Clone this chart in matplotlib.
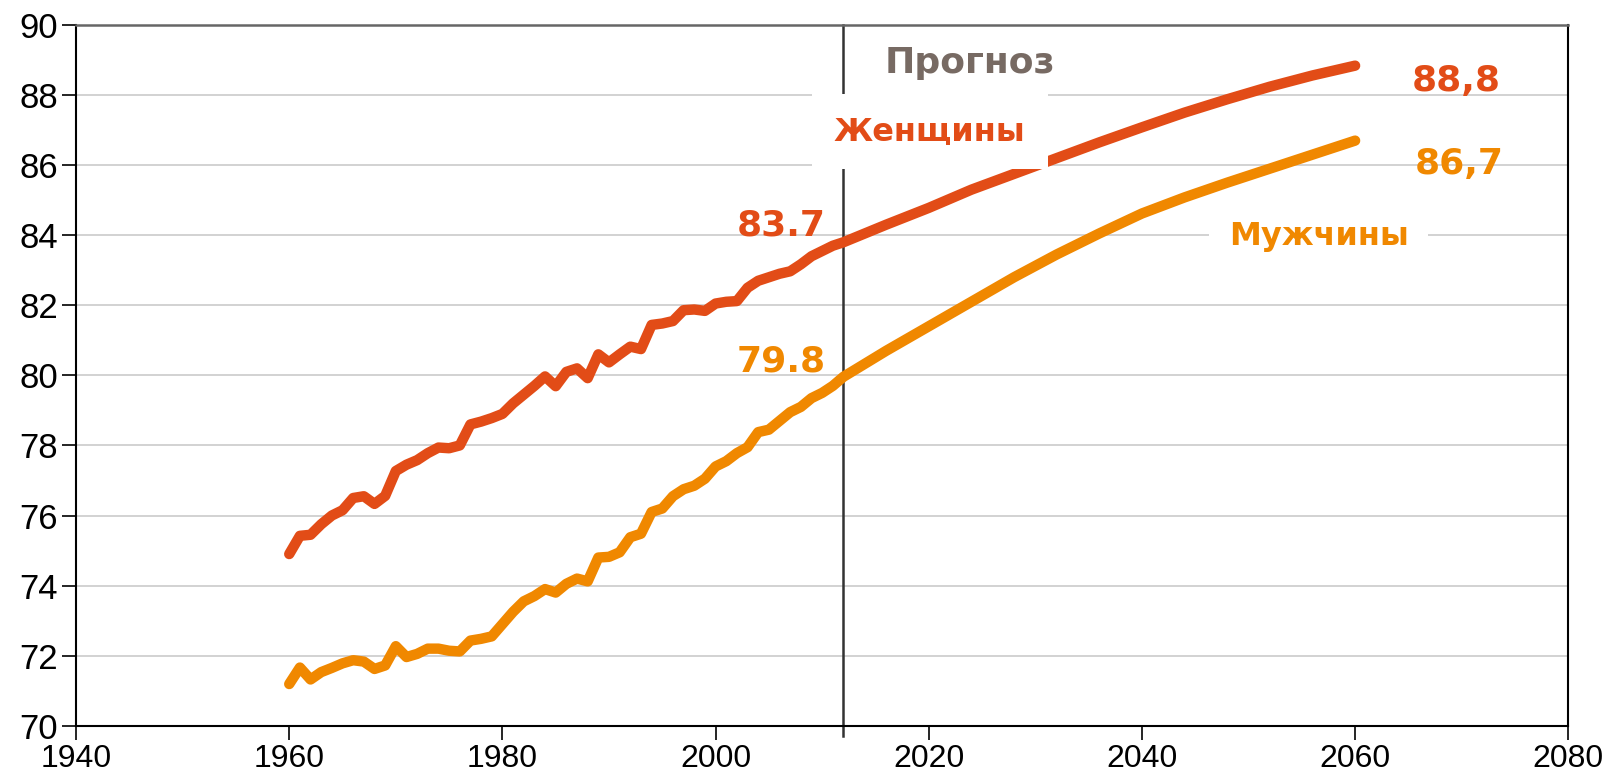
import matplotlib
matplotlib.use('Agg')
import matplotlib.pyplot as plt

# Life expectancy, history (1960-2012) and forecast (2012-2060)
years_hist = list(range(1960, 2013))
women_hist = [74.9, 75.42, 75.45, 75.75, 76.0, 76.15, 76.5, 76.55, 76.33, 76.56,
              77.27, 77.45, 77.58, 77.78, 77.94, 77.92, 78.0, 78.6, 78.68, 78.78,
              78.9, 79.2, 79.45, 79.7, 79.97, 79.69, 80.1, 80.2, 79.92, 80.6,
              80.37, 80.6, 80.82, 80.75, 81.44, 81.48, 81.55, 81.86, 81.88, 81.84,
              82.05, 82.1, 82.12, 82.5, 82.7, 82.8, 82.9, 82.97, 83.17, 83.4,
              83.55, 83.7, 83.8]
men_hist = [71.19, 71.66, 71.32, 71.53, 71.65, 71.78, 71.87, 71.83, 71.62, 71.72,
            72.27, 71.96, 72.05, 72.2, 72.2, 72.14, 72.12, 72.43, 72.48, 72.55,
            72.9, 73.25, 73.55, 73.7, 73.9, 73.8, 74.05, 74.2, 74.12, 74.8,
            74.82, 74.95, 75.38, 75.48, 76.1, 76.2, 76.55, 76.75, 76.85, 77.05,
            77.4, 77.55, 77.78, 77.95, 78.38, 78.45, 78.7, 78.95, 79.1, 79.35,
            79.5, 79.7, 79.96]

years_proj = [2012, 2016, 2020, 2024, 2028, 2032, 2036, 2040, 2044, 2048, 2052, 2056, 2060]
women_proj = [83.8, 84.3, 84.78, 85.3, 85.75, 86.2, 86.65, 87.08, 87.5, 87.88, 88.24, 88.56, 88.84]
men_proj = [79.96, 80.7, 81.4, 82.1, 82.8, 83.45, 84.05, 84.62, 85.08, 85.5, 85.9, 86.3, 86.7]

forecast_start = 2012

c_women = '#E24C17'
c_men = '#F08800'
c_note = '#776A63'

fig = plt.figure(figsize=(16.08, 7.79), dpi=100)
ax = fig.add_axes([0.0473, 0.0684, 0.928, 0.8995])

ax.plot(years_hist + years_proj[1:], women_hist + women_proj[1:], color=c_women,
        lw=7.5, solid_capstyle='round', solid_joinstyle='round', zorder=3)
ax.plot(years_hist + years_proj[1:], men_hist + men_proj[1:], color=c_men,
        lw=7.5, solid_capstyle='round', solid_joinstyle='round', zorder=3)

ax.plot([forecast_start, forecast_start], [69.7, 90], color='#333333', lw=1.8,
        clip_on=False, zorder=2)

ax.set_xlim(1940, 2080)
ax.set_ylim(70, 90)
ax.set_xticks(range(1940, 2081, 20))
ax.set_yticks(range(70, 91, 2))
ax.yaxis.grid(True, color='#cfcfcf', lw=1.3)
ax.set_axisbelow(True)
ax.tick_params(axis='x', length=10, width=1.2, labelsize=23, pad=3)
ax.tick_params(axis='y', length=10, width=1.2, labelsize=25, pad=3)
for lab in ax.get_xticklabels() + ax.get_yticklabels():
    lab.set_fontfamily('Liberation Sans')
ax.spines['top'].set_color('#666666')
ax.spines['top'].set_linewidth(1.8)
for s in ['left', 'bottom', 'right']:
    ax.spines[s].set_linewidth(1.5)

lbl = dict(fontweight='bold', family='DejaVu Sans', va='baseline', zorder=5)
ax.text(2023.9, 88.62, 'Прогноз', color=c_note, ha='center', fontsize=26, **lbl)
ax.text(2020.1, 86.72, 'Женщины', color=c_women, ha='center', fontsize=23,
        bbox=dict(facecolor='white', edgecolor='none', pad=16), **lbl)
ax.text(2056.6, 83.72, 'Мужчины', color=c_men, ha='center', fontsize=23,
        bbox=dict(facecolor='white', edgecolor='none', pad=14), **lbl)
ax.text(2069.5, 88.13, '88,8', color=c_women, ha='center', fontsize=26, **lbl)
ax.text(2069.8, 85.74, '86,7', color=c_men, ha='center', fontsize=26, **lbl)
ax.text(2010.3, 83.98, '83.7', color=c_women, ha='right', fontsize=26, **lbl)
ax.text(2010.35, 80.1, '79.8', color=c_men, ha='right', fontsize=26, **lbl)

plt.savefig('out.png', dpi=100)
